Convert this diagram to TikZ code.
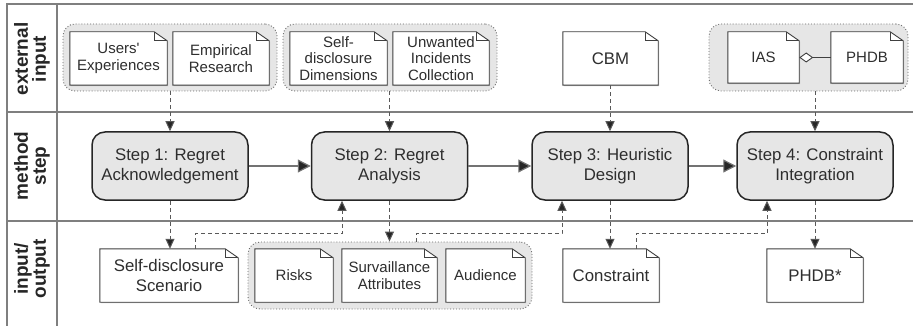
\documentclass[tikz,border=0pt]{standalone}
\usepackage{fontspec}
\setmainfont{Liberation Sans}
\usetikzlibrary{arrows.meta}
\pgfdeclarelayer{grp}
\pgfdeclarelayer{docbg}
\pgfsetlayers{grp,docbg,main}
\definecolor{txt}{HTML}{2E2E2E}
\definecolor{stepfill}{HTML}{E6E6E6}
\definecolor{grpfill}{HTML}{E6E6E6}
\definecolor{framecol}{HTML}{7F7F7F}
\tikzset{
  docnode/.style={rectangle, inner sep=0pt, align=center, text=txt},
  smalldoc/.style={docnode, font=\fontsize{15}{16.5}\selectfont, minimum height=53pt},
  bigdoc/.style={docnode, font=\fontsize{16.8}{20}\selectfont, minimum height=53pt},
  stepbox/.style={rectangle, rounded corners=13pt, draw=black!85, line width=1.5pt, fill=stepfill, minimum width=156pt, minimum height=68pt, align=center, text=txt, font=\fontsize{16.8}{20}\selectfont},
  grpbox/.style={rectangle, rounded corners=12pt, draw=black!60, dotted, line width=0.9pt, fill=grpfill, minimum height=67pt},
  lanelabel/.style={rotate=90, align=center, font=\bfseries\fontsize{19}{18}\selectfont, text=black!85},
  frameline/.style={draw=framecol, line width=1.4pt},
  flow/.style={draw=black!55, line width=1.2pt, -{Triangle[length=13pt,width=13pt,fill=black!85]}},
  dflow/.style={draw=black!65, line width=1pt, dash pattern=on 4pt off 3pt, -{Triangle[length=10pt,width=9pt,fill=black!85]}},
  docline/.style={draw=black!75, line width=0.9pt, fill=white},
  docshadow/.style={fill=black!25},
}
\newcommand\docoutline[1]{%
  \begin{pgfonlayer}{docbg}
    \fill[docshadow] ([xshift=1pt,yshift=-1pt]#1.north west) -- ([xshift=-12pt,yshift=-1pt]#1.north east) -- ([xshift=1pt,yshift=-10pt]#1.north east) -- ([xshift=1pt,yshift=-1pt]#1.south east) -- ([xshift=1pt,yshift=-1pt]#1.south west) -- cycle;
    \path[docline] (#1.north west) -- ([xshift=-13pt]#1.north east) -- ([yshift=-9pt]#1.north east) -- (#1.south east) -- (#1.south west) -- cycle;
    \draw[black!75, line width=0.8pt] ([xshift=-13pt]#1.north east) -- ([xshift=-13pt,yshift=-9pt]#1.north east) -- ([yshift=-9pt]#1.north east);
  \end{pgfonlayer}}
\begin{document}
\begin{tikzpicture}[x=1pt,y=-1pt]
\useasboundingbox (0,0) rectangle (913,326);
% frame
\coordinate (fTL) at (7,4);
\coordinate (fTR) at (913,4);
\coordinate (fBL) at (7,326);
\coordinate (dT) at (57,4);
\coordinate (dB) at (57,326);
\coordinate (h1L) at (7,112);
\coordinate (h1R) at (913,112);
\coordinate (h2L) at (7,221);
\coordinate (h2R) at (913,221);
\draw[frameline] (fBL) -- (fTL) -- (fTR);
\draw[frameline] (dT) -- (dB);
\draw[frameline] (h1L) -- (h1R);
\draw[frameline] (h2L) -- (h2R);
% lane labels
\node[lanelabel] (l1) at (32,59) {external\\input};
\node[lanelabel] (l2) at (32,166) {method\\step};
\node[lanelabel] (l3) at (32,269) {input/\\output};

% groups
\begin{pgfonlayer}{grp}
\node[grpbox, minimum width=214pt] (g1) at (170,57.5) {};
\node[grpbox, minimum width=214pt] (g2) at (390,57.5) {};
\node[grpbox, minimum width=199pt] (g3) at (808.5,57.5) {};
\node[grpbox, minimum width=284pt] (g4) at (390,275.5) {};
\end{pgfonlayer}

% external input docs
\node[smalldoc, minimum width=97pt] (ue) at (118.5,58.5) {Users\textquotesingle\\Experiences};
\node[smalldoc, minimum width=96pt] (er) at (221,58.5) {Empirical\\Research};
\node[smalldoc, minimum width=97pt] (sd) at (338.5,58.5) {Self-\\disclosure\\Dimensions};
\node[smalldoc, minimum width=96pt] (ui) at (441,58.5) {Unwanted\\Incidents\\Collection};
\node[bigdoc, minimum width=95pt] (cbm) at (610.5,58.5) {CBM};
\node[smalldoc, minimum width=71pt, minimum height=51pt] (ias) at (763.5,57.5) {IAS};
\node[smalldoc, minimum width=72pt, minimum height=51pt] (phdb) at (867,57.5) {PHDB};

% steps
\node[stepbox] (s1) at (170,166) {Step 1: Regret\\Acknowledgement};
\node[stepbox] (s2) at (389.5,166) {Step 2: Regret\\Analysis};
\node[stepbox] (s3) at (610,166) {Step 3: Heuristic\\Design};
\node[stepbox] (s4) at (815,166) {Step 4: Constraint\\Integration};

% input/output docs
\node[bigdoc, minimum width=138pt] (sds) at (169,275.5) {Self-disclosure\\Scenario};
\node[smalldoc, minimum width=78pt] (risks) at (294,275.5) {Risks};
\node[smalldoc, minimum width=95pt] (sa) at (389.5,275.5) {Survaillance\\Attributes};
\node[smalldoc, minimum width=79pt] (aud) at (485.5,275.5) {Audience};
\node[bigdoc, minimum width=96pt] (cons) at (611,275.5) {Constraint};
\node[bigdoc, minimum width=96pt] (phdbs) at (815,275.5) {PHDB*};

\foreach \d in {ue,er,sd,ui,cbm,ias,phdb,sds,risks,sa,aud,cons,phdbs}{\docoutline{\d}}

% aggregation
\draw[draw=black!75, line width=0.9pt, -{Diamond[open,length=14pt,width=10pt,fill=white]}] (phdb.west) -- (ias.east);

% main flow
\draw[flow] (s1.east) -- (s2.west);
\draw[flow] (s2.east) -- (s3.west);
\draw[flow] (s3.east) -- (s4.west);

% inputs
\draw[dflow] (g1.south) -- (s1.north);
\draw[dflow] (g2.south -| s2.north) -- (s2.north);
\draw[dflow] (cbm.south -| s3.north) -- (s3.north);
\draw[dflow] (g3.south -| s4.north) -- (s4.north);

% outputs
\draw[dflow] (s1.south) -- (s1.south |- sds.north);
\draw[dflow] (s2.south) -- (s2.south |- g4.north);
\draw[dflow] (s3.south) -- (s3.south |- cons.north);
\draw[dflow] (s4.south) -- (s4.south |- phdbs.north);

% feedback
\draw[dflow] ([xshift=26pt]sds.north) -- ++(0,-15) -| ([xshift=-47.5pt]s2.south);
\draw[dflow] ([xshift=26pt]g4.north) -- ++(0,-8) -| ([xshift=-48pt]s3.south);
\draw[dflow] ([xshift=25pt]cons.north) -- ++(0,-15) -| ([xshift=-48pt]s4.south);
\end{tikzpicture}
\end{document}
